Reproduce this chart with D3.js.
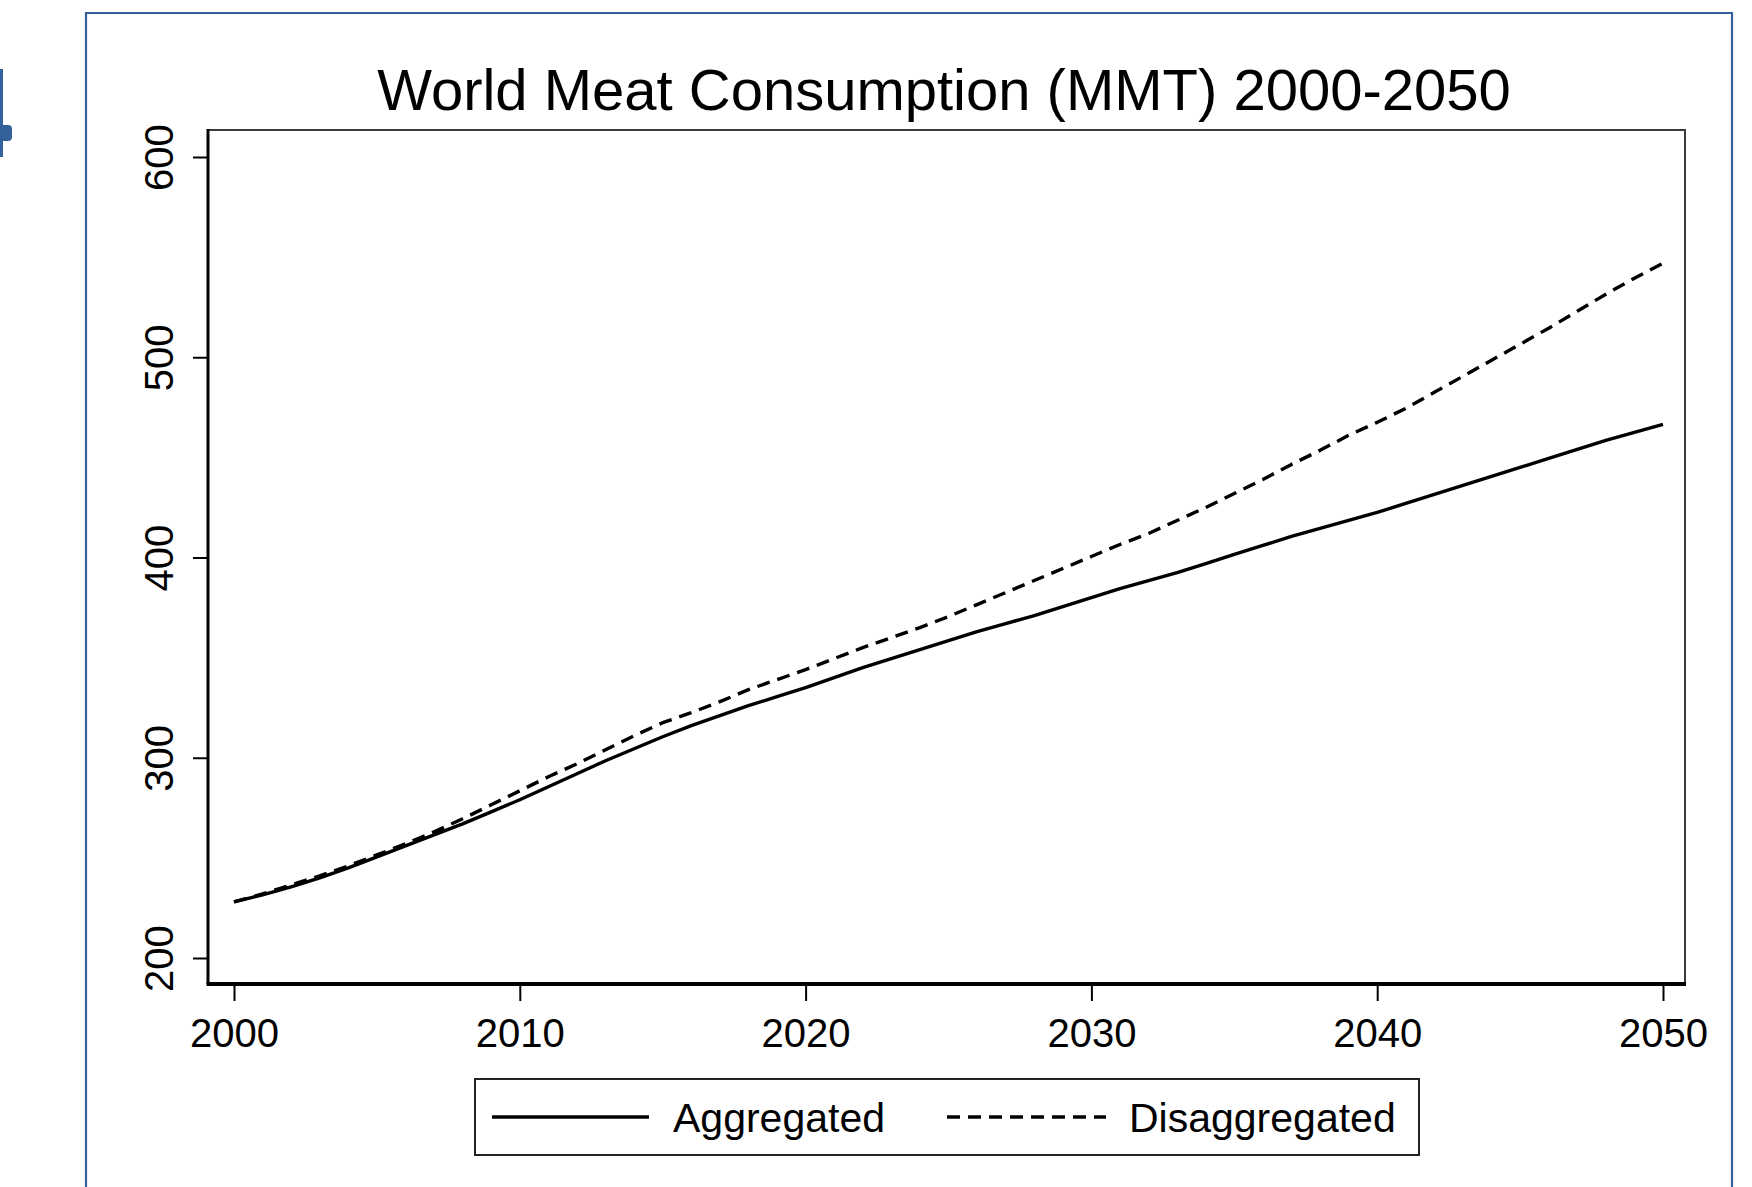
<!DOCTYPE html>
<html>
<head>
<meta charset="utf-8">
<title>World Meat Consumption (MMT) 2000-2050</title>
<script src="https://cdn.jsdelivr.net/npm/d3@7/dist/d3.min.js"></script>
<style>
  html, body { margin: 0; padding: 0; background: #fff; }
  svg { display: block; font-family: "Liberation Sans", Arial, Helvetica, sans-serif; }
</style>
</head>
<body>
<svg id="chart" width="1752" height="1187"></svg>
<script>
// Projected world meat consumption, million metric tonnes, one value per year
const years = d3.range(2000, 2051);
const aggregated = [
  228, 231.5, 235.5, 240, 245, 250.5, 256, 261.5, 267, 273,
  279, 285.5, 292, 298.5, 304.5, 310.5, 316, 321, 326, 330.5,
  335, 340, 345, 349.5, 354, 358.5, 363, 367, 371, 375.5,
  380, 384.5, 388.5, 392.5, 397, 401.5, 406, 410.5, 414.5, 418.5,
  422.5, 427, 431.5, 436, 440.5, 445, 449.5, 454, 458.5, 462.5,
  466.5
];
const disaggregated = [
  228, 232, 236.5, 241, 246, 251.5, 257, 263, 269.5, 276.5,
  283.5, 290.5, 297, 304, 311, 317.5, 322.5, 328, 334, 339,
  344, 349.5, 355, 360, 365, 370.5, 376.5, 382.5, 388.5, 394.5,
  400.5, 406.5, 412, 418.5, 425, 432, 439, 446.5, 453.5, 461,
  467.5, 474.5, 482.5, 490.5, 498.5, 506.5, 514.5, 523, 531.5, 539.5,
  547
];
const seriesNames = ["Aggregated", "Disaggregated"];
const xTicks = [2000, 2010, 2020, 2030, 2040, 2050];
const yTicks = [200, 300, 400, 500, 600];
const titleText = "World Meat Consumption (MMT) 2000-2050";

const svg = d3.select("#chart");
const blue = "#34609c";

// Slide frame and the clipped connector on the left edge
const frame = svg.append("g").attr("fill", "none").attr("stroke", blue).attr("stroke-width", 2.2);
frame.append("path").attr("d", "M86,1190 L86,13 L1732,13 L1732,1190");
svg.append("rect").attr("x", -3).attr("y", 69).attr("width", 6).attr("height", 88).attr("fill", blue);
svg.append("rect").attr("x", -6).attr("y", 125).attr("width", 18).attr("height", 16).attr("rx", 4).attr("fill", blue);

// Plot region
const box = { left: 208, top: 130, right: 1685, bottom: 984 };
const x = d3.scaleLinear().domain([2000, 2050]).range([234, 1663]);
const y = d3.scaleLinear().domain([200, 600]).range([958, 157]);

svg.append("rect")
  .attr("x", box.left).attr("y", box.top)
  .attr("width", box.right - box.left).attr("height", box.bottom - box.top)
  .attr("fill", "none").attr("stroke", "#3a3a3a").attr("stroke-width", 2);

// Title
svg.append("text")
  .attr("x", 944).attr("y", 110)
  .attr("text-anchor", "middle")
  .attr("font-size", 58)
  .attr("fill", "#000")
  .text(titleText);

// Axes
const xAxis = svg.append("g")
  .attr("transform", `translate(0,${box.bottom})`)
  .call(d3.axisBottom(x).tickValues(xTicks).tickFormat(d3.format("d")).tickSize(17));
xAxis.select(".domain").remove();
xAxis.selectAll(".tick line").attr("stroke", "#000").attr("stroke-width", 2);
xAxis.selectAll(".tick text")
  .attr("y", 63).attr("dy", null)
  .attr("font-size", 40).attr("fill", "#000")
  .attr("font-family", "Liberation Sans, Arial, sans-serif");

const yAxis = svg.append("g")
  .attr("transform", `translate(${box.left},0)`)
  .call(d3.axisLeft(y).tickValues(yTicks).tickFormat(d3.format("d")).tickSize(15));
yAxis.select(".domain").remove();
yAxis.selectAll(".tick line").attr("stroke", "#000").attr("stroke-width", 2);
yAxis.selectAll(".tick text")
  .attr("transform", "rotate(-90)")
  .attr("x", 0).attr("y", -35).attr("dy", null)
  .attr("text-anchor", "middle")
  .attr("font-size", 40).attr("fill", "#000")
  .attr("font-family", "Liberation Sans, Arial, sans-serif");

// Axis lines along the left and bottom of the plot region
svg.append("line")
  .attr("x1", box.left).attr("x2", box.left)
  .attr("y1", box.top - 1).attr("y2", box.bottom)
  .attr("stroke", "#000").attr("stroke-width", 3);
svg.append("line")
  .attr("x1", box.left - 1.5).attr("x2", box.right + 1)
  .attr("y1", box.bottom).attr("y2", box.bottom)
  .attr("stroke", "#000").attr("stroke-width", 4);

// Series lines
const line = d3.line().x((d, i) => x(years[i])).y(d => y(d));
const dash = "13,8";

svg.append("path")
  .datum(aggregated)
  .attr("d", line)
  .attr("fill", "none").attr("stroke", "#000").attr("stroke-width", 3.4)
  .attr("stroke-linejoin", "round");

svg.append("path")
  .datum(disaggregated)
  .attr("d", line)
  .attr("fill", "none").attr("stroke", "#000").attr("stroke-width", 3.4)
  .attr("stroke-dasharray", dash)
  .attr("stroke-linejoin", "round");

// Legend
const legend = svg.append("g");
legend.append("rect")
  .attr("x", 475).attr("y", 1079).attr("width", 944).attr("height", 76)
  .attr("fill", "#fff").attr("stroke", "#222").attr("stroke-width", 2);

const legendItems = [
  { name: seriesNames[0], x1: 492, x2: 649, tx: 673, dash: null },
  { name: seriesNames[1], x1: 947, x2: 1106, tx: 1129, dash: dash }
];
legendItems.forEach(it => {
  legend.append("line")
    .attr("x1", it.x1).attr("x2", it.x2).attr("y1", 1117).attr("y2", 1117)
    .attr("stroke", "#000").attr("stroke-width", 3.5)
    .attr("stroke-dasharray", it.dash);
  legend.append("text")
    .attr("x", it.tx).attr("y", 1132)
    .attr("font-size", 41).attr("fill", "#000")
    .text(it.name);
});
</script>
</body>
</html>
